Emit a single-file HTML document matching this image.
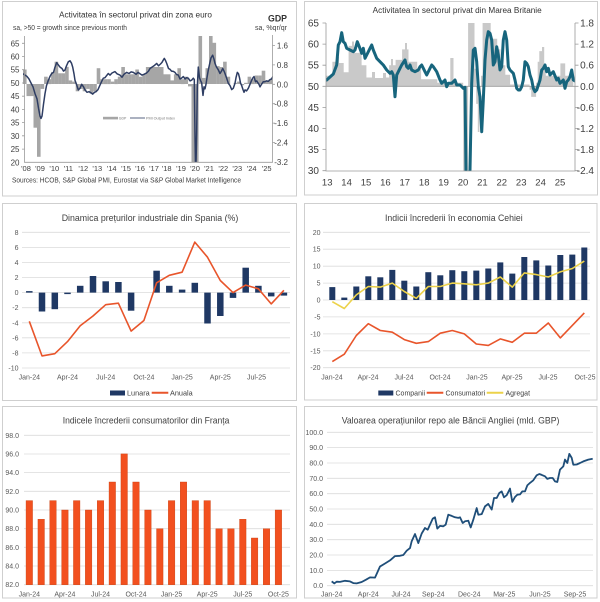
<!DOCTYPE html>
<html><head><meta charset="utf-8"><style>
html,body{margin:0;padding:0;background:#fff}
svg{display:block}
text{font-family:"Liberation Sans",Arial,sans-serif}
</style></head><body>
<svg width="600" height="602" viewBox="0 0 600 602" xmlns="http://www.w3.org/2000/svg">
<defs>
<clipPath id="c1"><rect x="23" y="36" width="250" height="126.3"/></clipPath>
<clipPath id="c2"><rect x="326" y="23" width="249" height="148"/></clipPath>
</defs>
<rect width="600" height="602" fill="#fff"/>
<!-- panel borders -->
<g fill="none" stroke="#cfcfcf" stroke-width="1">
<rect x="2.5" y="1.5" width="294" height="194.5"/>
<rect x="304.5" y="1.5" width="293" height="193.5"/>
<rect x="2.5" y="203.5" width="294" height="197"/>
<rect x="304.5" y="203.5" width="292.5" height="196.5"/>
<rect x="2.5" y="406.5" width="294" height="191.5"/>
<rect x="304.5" y="406.5" width="292.5" height="191.5"/>
</g>

<!-- ================= PANEL 1 ================= -->
<text x="59" y="17.5" font-size="8" fill="#333" textLength="153" lengthAdjust="spacingAndGlyphs">Activitatea în sectorul privat din zona euro</text>
<text x="13" y="30" font-size="7" fill="#404040" textLength="114" lengthAdjust="spacingAndGlyphs">sa, &gt;50 = growth since previous month</text>
<text x="268" y="21.7" font-size="9" font-weight="bold" fill="#333" textLength="19" lengthAdjust="spacingAndGlyphs">GDP</text>
<text x="255" y="30" font-size="7" fill="#404040" textLength="32" lengthAdjust="spacingAndGlyphs">sa, %qr/qr</text>
<g clip-path="url(#c1)" fill="#a6a6a6">
<rect x="23.0" y="69.5" width="3.6" height="14.5"/>
<rect x="26.5" y="84" width="3.6" height="12.1"/>
<rect x="30.0" y="84" width="3.6" height="12.1"/>
<rect x="33.5" y="84" width="3.6" height="43.7"/>
<rect x="37.0" y="84" width="3.6" height="72.8"/>
<rect x="40.6" y="84" width="3.6" height="4.9"/>
<rect x="44.1" y="76.7" width="3.6" height="7.3"/>
<rect x="47.6" y="79.2" width="3.6" height="4.9"/>
<rect x="51.1" y="71.9" width="3.6" height="12.1"/>
<rect x="54.6" y="61.7" width="3.6" height="22.3"/>
<rect x="58.1" y="73.3" width="3.6" height="10.7"/>
<rect x="61.6" y="73.3" width="3.6" height="10.7"/>
<rect x="65.1" y="66.8" width="3.6" height="17.2"/>
<rect x="68.6" y="80.4" width="3.6" height="3.6"/>
<rect x="72.1" y="81.6" width="3.6" height="2.4"/>
<rect x="75.7" y="84" width="3.6" height="7.3"/>
<rect x="79.2" y="84" width="3.6" height="4.9"/>
<rect x="82.7" y="84" width="3.6" height="7.3"/>
<rect x="86.2" y="84" width="3.6" height="4.9"/>
<rect x="89.7" y="84" width="3.6" height="9.7"/>
<rect x="93.2" y="84" width="3.6" height="7.3"/>
<rect x="96.7" y="68.2" width="3.6" height="15.8"/>
<rect x="100.2" y="79.2" width="3.6" height="4.9"/>
<rect x="103.7" y="79.2" width="3.6" height="4.9"/>
<rect x="107.2" y="79.2" width="3.6" height="4.9"/>
<rect x="110.8" y="81.6" width="3.6" height="2.4"/>
<rect x="114.3" y="79.2" width="3.6" height="4.9"/>
<rect x="117.8" y="76.7" width="3.6" height="7.3"/>
<rect x="121.3" y="67.0" width="3.6" height="17.0"/>
<rect x="124.8" y="74.3" width="3.6" height="9.7"/>
<rect x="128.3" y="74.3" width="3.6" height="9.7"/>
<rect x="131.8" y="74.3" width="3.6" height="9.7"/>
<rect x="135.3" y="69.5" width="3.6" height="14.5"/>
<rect x="138.8" y="76.7" width="3.6" height="7.3"/>
<rect x="142.3" y="74.3" width="3.6" height="9.7"/>
<rect x="145.9" y="67.0" width="3.6" height="17.0"/>
<rect x="149.4" y="67.0" width="3.6" height="17.0"/>
<rect x="152.9" y="67.0" width="3.6" height="17.0"/>
<rect x="156.4" y="67.0" width="3.6" height="17.0"/>
<rect x="159.9" y="67.0" width="3.6" height="17.0"/>
<rect x="163.4" y="74.3" width="3.6" height="9.7"/>
<rect x="166.9" y="74.3" width="3.6" height="9.7"/>
<rect x="170.4" y="80.4" width="3.6" height="3.6"/>
<rect x="173.9" y="74.3" width="3.6" height="9.7"/>
<rect x="177.4" y="68.2" width="3.6" height="15.8"/>
<rect x="180.9" y="79.2" width="3.6" height="4.9"/>
<rect x="184.5" y="76.7" width="3.6" height="7.3"/>
<rect x="188.0" y="84" width="3.6" height="2.4"/>
<rect x="191.5" y="84" width="3.6" height="80"/>
<rect x="195.0" y="84" width="3.6" height="80"/>
<rect x="198.5" y="34" width="3.6" height="50"/>
<rect x="202.0" y="77.9" width="3.6" height="6.1"/>
<rect x="205.5" y="68.2" width="3.6" height="15.8"/>
<rect x="209.0" y="34" width="3.6" height="50"/>
<rect x="212.5" y="42.8" width="3.6" height="41.2"/>
<rect x="216.1" y="66.1" width="3.6" height="17.9"/>
<rect x="219.6" y="67.0" width="3.6" height="17.0"/>
<rect x="223.1" y="61.7" width="3.6" height="22.3"/>
<rect x="226.6" y="76.7" width="3.6" height="7.3"/>
<rect x="233.6" y="82.8" width="3.6" height="1.2"/>
<rect x="237.1" y="81.6" width="3.6" height="2.4"/>
<rect x="240.6" y="84" width="3.6" height="1.2"/>
<rect x="244.1" y="82.8" width="3.6" height="1.2"/>
<rect x="247.6" y="76.7" width="3.6" height="7.3"/>
<rect x="251.1" y="79.2" width="3.6" height="4.9"/>
<rect x="254.7" y="75.5" width="3.6" height="8.5"/>
<rect x="258.2" y="75.5" width="3.6" height="8.5"/>
<rect x="261.7" y="70.7" width="3.6" height="13.3"/>
<rect x="265.2" y="80.4" width="3.6" height="3.6"/>
<rect x="268.7" y="79.2" width="3.6" height="4.9"/>
</g>
<polyline clip-path="url(#c1)" fill="none" stroke="#2e3d63" stroke-width="1.5" stroke-linejoin="round" points="23,73.7 25,75.1 27,76.4 29,79.0 31,83.0 33,86.8 35,93.6 37,98.9 38.5,108.1 40,116.1 41,118.4 42,116.1 43.5,104.2 45,93.6 46.5,85.6 48.3,80.4 50,76.4 51.7,73.5 53.5,72.4 55,67.1 56.7,62.6 58,64.5 60,67.1 62,68.5 63.5,71.1 65,70.0 66.5,65.8 68.3,61.8 70,60.8 71.5,63.2 72.7,67.1 74,73.8 75,80.4 76.5,84.3 78.3,89.9 80,88.3 81.7,84.3 83.5,86.8 85,89.9 87,92.3 89,91.7 91,92.8 92.7,94.1 94.5,92.3 96,91.7 98,89.6 100,85.1 101.5,81.7 103.3,78.2 105,77.7 107,75.1 108.3,73.5 110,75.1 112,73.0 115,71.6 117,73.8 120,75.1 122,77.2 124,74.3 126.7,72.4 129,73.5 131,71.9 133.3,72.4 136,74.3 138,72.4 140,73.7 142,75.1 144,74.3 146.7,72.9 148.5,71.1 150,68.5 152,67.1 154,65.8 156.7,63.4 158.5,65.8 160.5,64.0 162,62.4 163.3,60.0 164.3,58.4 165.5,60.5 166.7,63.4 168.5,68.5 170,69.3 171.5,71.1 173.3,71.4 175,72.4 176.5,74.5 178.3,75.1 180,79.0 181.5,78.2 183.3,76.6 185,79.0 186.5,77.7 188.3,78.2 190,80.9 191.7,80.1 193.3,78.2 194.3,79.6 195,135.9 195.7,179.2 196.7,130.9 197.3,86.9 198.3,67.1 199.5,77.7 200.5,80.4 201.7,83.0 203,95.4 204,86.9 205,88.8 206,84.3 207,77.7 208.3,70.0 209.5,64.5 211,57.9 212.7,55.2 214,59.2 215,63.4 216.5,67.1 218.3,69.8 220,73.5 221.5,71.1 222.7,68.5 224,71.1 225,73.5 226.5,77.7 228.3,83.3 230,85.6 231.7,89.6 233.3,88.3 235,83.3 236,77.7 237.3,72.4 238.5,73.8 239.5,77.7 240.5,83.0 241.7,85.6 243,89.6 244,92.3 245,89.9 246.5,90.9 248.3,88.3 250,84.3 251.7,80.1 253,77.7 254,76.6 255.5,81.7 256.7,80.9 258,83.0 259,84.3 260,86.9 261.5,84.3 263.3,81.7 265,81.7 266.5,80.9 268.3,81.4 270,79.6 271.5,79.0 273,76.4"/>
<!-- axes p1 -->
<g stroke="#9a9a9a" stroke-width="0.8" fill="none">
<path d="M24.5,36V162.3H272.5V35"/>
<path d="M22,43.3H24.5M22,56.5H24.5M22,69.7H24.5M22,83H24.5M22,96.2H24.5M22,109.4H24.5M22,122.6H24.5M22,135.8H24.5M22,149.1H24.5"/>
<path d="M272.5,45.5H275M272.5,64.9H275M272.5,84.3H275M272.5,103.7H275M272.5,123.1H275M272.5,142.5H275"/>
</g>
<g font-size="8" fill="#404040" text-anchor="end">
<text x="19.5" y="46.3">65</text><text x="19.5" y="59.5">60</text><text x="19.5" y="72.7">55</text><text x="19.5" y="86">50</text><text x="19.5" y="99.2">45</text><text x="19.5" y="112.4">40</text><text x="19.5" y="125.6">35</text><text x="19.5" y="138.8">30</text><text x="19.5" y="152.1">25</text><text x="19.5" y="165.3">20</text>
<text x="288" y="48.5">1.6</text><text x="288" y="67.9">0.8</text><text x="288" y="87.3">0.0</text><text x="288" y="106.7">-0.8</text><text x="288" y="126.1">-1.6</text><text x="288" y="145.5">-2.4</text><text x="288" y="164.9">-3.2</text>
</g>
<g font-size="7.5" fill="#404040" text-anchor="middle">
<text x="26" y="171">'08</text><text x="40" y="171">'09</text><text x="54.3" y="171">'10</text><text x="68.3" y="171">'11</text><text x="83.3" y="171">'12</text><text x="97.3" y="171">'13</text><text x="111.7" y="171">'14</text><text x="126" y="171">'15</text><text x="140" y="171">'16</text><text x="154" y="171">'17</text><text x="166.7" y="171">'18</text><text x="181" y="171">'19</text><text x="195" y="171">'20</text><text x="209" y="171">'21</text><text x="223.3" y="171">'22</text><text x="237.3" y="171">'23</text><text x="251.7" y="171">'24</text><text x="266.7" y="171">'25</text>
</g>
<text x="12" y="182.5" font-size="7" fill="#404040" textLength="229" lengthAdjust="spacingAndGlyphs">Sources: HCOB, S&amp;P Global PMI, Eurostat via S&amp;P Global Market Intelligence</text>
<rect x="103" y="116.8" width="15" height="2.6" fill="#a6a6a6"/>
<text x="118.8" y="119.5" font-size="3.5" fill="#777">GDP</text>
<line x1="130" y1="118" x2="145" y2="118" stroke="#2e3d63" stroke-width="0.8"/>
<text x="146" y="119.5" font-size="3.5" fill="#777" textLength="29" lengthAdjust="spacingAndGlyphs">PMI Output Index</text>

<!-- ================= PANEL 2 ================= -->
<text x="372.7" y="12.8" font-size="8" fill="#333" textLength="169" lengthAdjust="spacingAndGlyphs">Activitatea în sectorul privat din Marea Britanie</text>
<polygon clip-path="url(#c2)" fill="#c9c9c9" points="325.9,86.3 325.9,75.8 332.4,75.8 332.4,61.7 336,61.7 336,57 339,57 339,63 343.7,63 343.7,72.2 348.6,72.2 348.6,45.9 352,45.9 352,41.5 354,41.5 354,47 355.1,47 355.1,52.9 361.6,52.9 361.6,65.2 366.4,65.2 366.4,77.5 372,77.5 372,72 375,72 375,78 383,78 383,73 386,73 386,77.5 389.1,77.5 389.1,65.2 391,65.2 391,59 393,59 393,65.2 395.6,65.2 395.6,59.9 402.1,59.9 402.1,49.4 405,49.4 405,43 407,43 407,49.4 408.5,49.4 408.5,61.7 417.2,61.7 417.2,68.7 421.1,68.7 421.1,79.3 437.3,79.3 437.3,82.8 450.3,82.8 450.3,58 453.5,58 453.5,82.8 463.2,82.8 463.2,180 468.1,180 468.1,15 474.5,15 474.5,68.7 476.2,68.7 476.2,103.9 477.8,103.9 477.8,132 479.4,132 479.4,114.4 481,114.4 481,75.8 482.6,75.8 482.6,15 489.1,15 489.1,23 490.7,23 490.7,38.8 497.2,38.8 497.2,49.4 500.4,49.4 500.4,65.2 505.3,65.2 505.3,74.7 510.1,74.7 510.1,84.5 529.6,84.5 529.6,89.8 531.2,89.8 531.2,96.9 536.1,96.9 536.1,82.8 537.7,82.8 537.7,61.7 539.3,61.7 539.3,51.1 542,51.1 542,47 544.2,47 544.2,65.2 545.8,65.2 545.8,75.8 560.4,75.8 560.4,63.4 565.2,63.4 565.2,75.8 573.3,75.8 573.3,86.3"/>
<line x1="326" y1="86.3" x2="575" y2="86.3" stroke="#9a9a9a" stroke-width="0.8"/>
<polyline clip-path="url(#c2)" fill="none" stroke="#17657d" stroke-width="3" stroke-linejoin="round" stroke-linecap="round" points="326.7,80 333.3,74 336.7,65 338.3,45 340,41.7 341.7,32.7 343.3,41.7 345,43.3 346.7,48.3 350,50 353.3,51.7 355,50 357.3,41.7 359.3,46.7 361.7,53.3 363.3,48.3 365,58.3 366.7,55 370,48.3 371.7,45 373.3,50 376.7,58.3 380,61.7 383.3,65 386.7,70 390,73.3 391.7,71.7 393.3,75 395,96.7 396.7,75 400,68.3 401.7,65 405,60 406.7,66.7 408.3,68.3 410,65 411.7,70 415,71.7 418.3,70 420,66.7 421.7,65 425,71.7 426.7,75 430,68.3 431.7,65 433.3,66.7 436.7,71.7 440,80 441.7,83.3 445,80 446.7,86.7 448.3,83.3 451.7,83.3 455,80 456.7,85 460,85 463.3,88.3 465,87.3 466,173.3 468.3,176.7 470,170 471.7,83.3 473.3,50 475,48.3 476.7,61.7 478.3,86.7 480,96.7 481.7,131.7 483.3,100 485,60 486.7,40 488.3,31.7 490,33.3 491.7,40 493.3,65 495,61.7 496.7,46.7 498.3,55 500,70 501.7,66.7 503.3,40 505,31.7 506.7,40 508.3,66.7 510,70 513.3,73.3 515,80 516.7,88.3 518.3,90 520,90 521.7,86.7 523.3,80 525,61.7 526.7,63.3 528.3,66.7 530,75 531.7,80 533.3,88.3 535,91.7 536.7,90 540,80 541.7,70 543.3,68.3 545,65 546.7,71.7 548.3,68.3 550,75 553.3,71.7 556.7,80 558.3,78.3 560,83.3 561.7,81.7 563.3,80 565,88.3 566.7,81.7 568.3,80 570,76.7 571.7,70 573.3,80 575,81"/>
<g stroke="#9a9a9a" stroke-width="0.8" fill="none">
<path d="M326,23V171H575V23"/>
<path d="M322.5,23H326M322.5,44.1H326M322.5,65.2H326M322.5,86.3H326M322.5,107.4H326M322.5,128.5H326M322.5,149.6H326M322.5,170.7H326"/>
<path d="M575,23H578.5M575,44.1H578.5M575,65.2H578.5M575,86.3H578.5M575,107.4H578.5M575,128.5H578.5M575,149.6H578.5M575,170.7H578.5"/>
</g>
<g font-size="10" fill="#404040" text-anchor="end">
<text x="319" y="26.5">65</text><text x="319" y="47.6">60</text><text x="319" y="68.7">55</text><text x="319" y="89.8">50</text><text x="319" y="110.9">45</text><text x="319" y="132">40</text><text x="319" y="153.1">35</text><text x="319" y="174.2">30</text>
<text x="594" y="26.5">1.8</text><text x="594" y="47.6">1.2</text><text x="594" y="68.7">0.6</text><text x="594" y="89.8">0.0</text><text x="594" y="110.9">-0.6</text><text x="594" y="132">-1.2</text><text x="594" y="153.1">-1.8</text><text x="594" y="174.2">-2.4</text>
</g>
<g font-size="9.5" fill="#404040" text-anchor="middle">
<text x="327.2" y="185.5">13</text><text x="346.6" y="185.5">14</text><text x="366" y="185.5">15</text><text x="385.4" y="185.5">16</text><text x="404.8" y="185.5">17</text><text x="424.2" y="185.5">18</text><text x="443.6" y="185.5">19</text><text x="463" y="185.5">20</text><text x="482.4" y="185.5">21</text><text x="501.8" y="185.5">22</text><text x="521.2" y="185.5">23</text><text x="540.6" y="185.5">24</text><text x="560" y="185.5">25</text>
</g>

<!-- ================= PANEL 3 ================= -->
<text x="61.7" y="221" font-size="9.5" fill="#404040" textLength="176.6" lengthAdjust="spacingAndGlyphs">Dinamica prețurilor industriale din Spania (%)</text>
<g stroke="#dcdcdc" stroke-width="0.8">
<path d="M22,232.3H290M22,247.4H290M22,262.4H290M22,277.5H290M22,292.6H290M22,307.7H290M22,322.8H290M22,337.8H290M22,352.9H290M22,368H290"/>
</g>
<g font-size="7" fill="#595959" text-anchor="end">
<text x="18.5" y="234.8">8</text><text x="18.5" y="249.9">6</text><text x="18.5" y="264.9">4</text><text x="18.5" y="280">2</text><text x="18.5" y="295.1">0</text><text x="18.5" y="310.2">-2</text><text x="18.5" y="325.3">-4</text><text x="18.5" y="340.3">-6</text><text x="18.5" y="355.4">-8</text><text x="18.5" y="370.5">-10</text>
</g>
<g fill="#1f3864">
<rect x="26.05" y="291.1" width="6.5" height="1.5"/>
<rect x="38.75" y="292.6" width="6.5" height="18.9"/>
<rect x="51.55" y="292.6" width="6.5" height="16.6"/>
<rect x="64.25" y="292.6" width="6.5" height="1.5"/>
<rect x="76.95" y="285.8" width="6.5" height="6.8"/>
<rect x="89.75" y="276.0" width="6.5" height="16.6"/>
<rect x="102.45" y="281.3" width="6.5" height="11.3"/>
<rect x="115.15" y="282.0" width="6.5" height="10.6"/>
<rect x="127.85" y="292.6" width="6.5" height="18.1"/>
<rect x="153.35" y="270.7" width="6.5" height="21.9"/>
<rect x="166.05" y="285.8" width="6.5" height="6.8"/>
<rect x="178.85" y="289.6" width="6.5" height="3.0"/>
<rect x="191.55" y="282.8" width="6.5" height="9.8"/>
<rect x="204.25" y="292.6" width="6.5" height="30.9"/>
<rect x="217.05" y="292.6" width="6.5" height="23.4"/>
<rect x="229.75" y="292.6" width="6.5" height="5.3"/>
<rect x="242.45" y="267.7" width="6.5" height="24.9"/>
<rect x="255.15" y="285.8" width="6.5" height="6.8"/>
<rect x="267.95" y="292.6" width="6.5" height="3.8"/>
<rect x="280.65" y="292.6" width="6.5" height="3.0"/>
</g>
<polyline fill="none" stroke="#e8552b" stroke-width="1.6" stroke-linejoin="round" points="29.3,321.3 42.0,355.9 54.8,353.7 67.5,341.6 80.2,325.8 93.0,316.0 105.7,304.7 118.4,303.2 131.1,331.1 143.9,320.5 156.6,282.8 169.3,275.3 182.1,272.2 194.8,242.1 207.5,257.2 220.3,280.5 233.0,292.6 245.7,285.1 258.4,288.8 271.2,303.9 283.9,290.3"/>
<g font-size="7" fill="#595959" text-anchor="middle">
<text x="29.3" y="379.5">Jan-24</text><text x="67.5" y="379.5">Apr-24</text><text x="105.7" y="379.5">Jul-24</text><text x="143.9" y="379.5">Oct-24</text><text x="182.1" y="379.5">Jan-25</text><text x="220.3" y="379.5">Apr-25</text><text x="256.5" y="379.5">Jul-25</text>
</g>
<rect x="110" y="390.5" width="15" height="5" fill="#1f3864"/>
<text x="127" y="395.7" font-size="7.3" fill="#404040">Lunara</text>
<line x1="151.7" y1="392.8" x2="168.3" y2="392.8" stroke="#e8552b" stroke-width="2"/>
<text x="170" y="395.7" font-size="7.3" fill="#404040">Anuala</text>

<!-- ================= PANEL 4 ================= -->
<text x="385" y="221" font-size="9.5" fill="#404040" textLength="137.7" lengthAdjust="spacingAndGlyphs">Indicii încrederii în economia Cehiei</text>
<g stroke="#dcdcdc" stroke-width="0.8">
<path d="M323,232.3H590M323,249.2H590M323,266.2H590M323,283.1H590M323,300H590M323,316.9H590M323,333.9H590M323,350.8H590M323,367.7H590"/>
</g>
<g font-size="7" fill="#595959" text-anchor="end">
<text x="320.5" y="234.8">20</text><text x="320.5" y="251.7">15</text><text x="320.5" y="268.7">10</text><text x="320.5" y="285.6">5</text><text x="320.5" y="302.5">0</text><text x="320.5" y="319.4">-5</text><text x="320.5" y="336.4">-10</text><text x="320.5" y="353.3">-15</text><text x="320.5" y="370.2">-20</text>
</g>
<g fill="#1f3864">
<rect x="329.3" y="287.1" width="6" height="12.9"/>
<rect x="341.3" y="297.6" width="6" height="2.4"/>
<rect x="353.3" y="286.5" width="6" height="13.5"/>
<rect x="365.3" y="276.3" width="6" height="23.7"/>
<rect x="377.3" y="277.3" width="6" height="22.7"/>
<rect x="389.3" y="269.9" width="6" height="30.1"/>
<rect x="401.3" y="280.7" width="6" height="19.3"/>
<rect x="413.3" y="286.5" width="6" height="13.5"/>
<rect x="425.3" y="272.2" width="6" height="27.8"/>
<rect x="437.3" y="275.3" width="6" height="24.7"/>
<rect x="449.3" y="270.2" width="6" height="29.8"/>
<rect x="461.3" y="271.2" width="6" height="28.8"/>
<rect x="473.3" y="270.6" width="6" height="29.4"/>
<rect x="485.3" y="268.5" width="6" height="31.5"/>
<rect x="497.3" y="262.4" width="6" height="37.6"/>
<rect x="509.3" y="273.6" width="6" height="26.4"/>
<rect x="521.3" y="257.0" width="6" height="43.0"/>
<rect x="533.3" y="260.4" width="6" height="39.6"/>
<rect x="545.3" y="265.5" width="6" height="34.5"/>
<rect x="557.3" y="255.0" width="6" height="45.0"/>
<rect x="569.3" y="254.6" width="6" height="45.4"/>
<rect x="581.3" y="247.5" width="6" height="52.5"/>
</g>
<polyline fill="none" stroke="#e8552b" stroke-width="1.6" stroke-linejoin="round" points="332.3,361.6 344.3,354.2 356.3,335.5 368.3,323.7 380.3,330.5 392.3,332.2 404.3,339.6 416.3,343.3 428.3,341.6 440.3,333.2 452.3,330.5 464.3,333.9 476.3,344.0 488.3,345.4 500.3,338.9 512.3,342.3 524.3,333.2 536.3,333.2 548.3,323.0 560.3,337.9 572.3,325.4 584.3,312.9"/>
<polyline fill="none" stroke="#ecd24a" stroke-width="1.6" stroke-linejoin="round" points="332.3,301.7 344.3,308.5 356.3,294.9 368.3,286.5 380.3,287.1 392.3,283.1 404.3,291.5 416.3,298.3 428.3,286.5 440.3,286.5 452.3,283.1 464.3,283.8 476.3,284.8 488.3,283.1 500.3,277.0 512.3,287.1 524.3,272.9 536.3,274.6 548.3,277.0 560.3,271.9 572.3,268.5 584.3,261.1"/>
<g font-size="7" fill="#595959" text-anchor="middle">
<text x="332" y="379.5">Jan-24</text><text x="368" y="379.5">Apr-24</text><text x="404" y="379.5">Jul-24</text><text x="440" y="379.5">Oct-24</text><text x="477" y="379.5">Jan-25</text><text x="512" y="379.5">Apr-25</text><text x="548" y="379.5">Jul-25</text><text x="585" y="379.5">Oct-25</text>
</g>
<rect x="378.3" y="390.5" width="15" height="5" fill="#1f3864"/>
<text x="395.5" y="395.7" font-size="7" fill="#404040">Companii</text>
<line x1="426.7" y1="392.8" x2="443.3" y2="392.8" stroke="#e8552b" stroke-width="2"/>
<text x="445.5" y="395.7" font-size="7" fill="#404040">Consumatori</text>
<line x1="486.7" y1="392.8" x2="503.3" y2="392.8" stroke="#ecd24a" stroke-width="2"/>
<text x="505.5" y="395.7" font-size="7" fill="#404040">Agregat</text>

<!-- ================= PANEL 5 ================= -->
<text x="62.7" y="423.3" font-size="9.5" fill="#404040" textLength="166.7" lengthAdjust="spacingAndGlyphs">Indicele încrederii consumatorilor din Franța</text>
<g stroke="#dcdcdc" stroke-width="0.8">
<path d="M24,435.3H290M24,454H290M24,472.6H290M24,491.3H290M24,510H290M24,528.7H290M24,547.3H290M24,566H290M24,584.7H290"/>
</g>
<g font-size="7" fill="#595959" text-anchor="end">
<text x="19" y="437.8">98.0</text><text x="19" y="456.5">96.0</text><text x="19" y="475.1">94.0</text><text x="19" y="493.8">92.0</text><text x="19" y="512.5">90.0</text><text x="19" y="531.2">88.0</text><text x="19" y="549.8">86.0</text><text x="19" y="568.5">84.0</text><text x="19" y="587.2">82.0</text>
</g>
<g fill="#f2501f" stroke="#c8400f" stroke-width="0.4">
<rect x="26.05" y="500.6" width="6.5" height="84.1"/>
<rect x="37.95" y="519.3" width="6.5" height="65.4"/>
<rect x="49.75" y="500.6" width="6.5" height="84.1"/>
<rect x="61.65" y="510" width="6.5" height="74.7"/>
<rect x="73.45" y="500.6" width="6.5" height="84.1"/>
<rect x="85.35" y="510" width="6.5" height="74.7"/>
<rect x="97.25" y="500.6" width="6.5" height="84.1"/>
<rect x="109.05" y="482" width="6.5" height="102.7"/>
<rect x="120.95" y="453.9" width="6.5" height="130.8"/>
<rect x="132.75" y="482" width="6.5" height="102.7"/>
<rect x="144.65" y="510" width="6.5" height="74.7"/>
<rect x="156.55" y="528.7" width="6.5" height="56"/>
<rect x="168.35" y="500.6" width="6.5" height="84.1"/>
<rect x="180.25" y="482" width="6.5" height="102.7"/>
<rect x="192.05" y="500.6" width="6.5" height="84.1"/>
<rect x="203.95" y="500.6" width="6.5" height="84.1"/>
<rect x="215.85" y="528.7" width="6.5" height="56"/>
<rect x="227.65" y="528.7" width="6.5" height="56"/>
<rect x="239.55" y="519.3" width="6.5" height="65.4"/>
<rect x="251.35" y="538" width="6.5" height="46.7"/>
<rect x="263.25" y="528.7" width="6.5" height="56"/>
<rect x="275.15" y="510" width="6.5" height="74.7"/>
</g>
<g font-size="7" fill="#595959" text-anchor="middle">
<text x="29.3" y="596.5">Jan-24</text><text x="64.9" y="596.5">Apr-24</text><text x="100.5" y="596.5">Jul-24</text><text x="136" y="596.5">Oct-24</text><text x="171.6" y="596.5">Jan-25</text><text x="207.2" y="596.5">Apr-25</text><text x="242.8" y="596.5">Jul-25</text><text x="278.4" y="596.5">Oct-25</text>
</g>

<!-- ================= PANEL 6 ================= -->
<text x="341.7" y="423.3" font-size="9.5" fill="#404040" textLength="217.7" lengthAdjust="spacingAndGlyphs">Valoarea operațiunilor repo ale Băncii Angliei (mld. GBP)</text>
<g stroke="#dcdcdc" stroke-width="0.8">
<path d="M327,432.3H593M327,447.6H593M327,463H593M327,478.3H593M327,493.7H593M327,509H593M327,524.3H593M327,539.7H593M327,555H593M327,570.4H593M327,585.7H593"/>
</g>
<g font-size="7" fill="#595959" text-anchor="end">
<text x="323" y="434.8">100.0</text><text x="323" y="450.1">90.0</text><text x="323" y="465.5">80.0</text><text x="323" y="480.8">70.0</text><text x="323" y="496.2">60.0</text><text x="323" y="511.5">50.0</text><text x="323" y="526.8">40.0</text><text x="323" y="542.2">30.0</text><text x="323" y="557.5">20.0</text><text x="323" y="572.9">10.0</text><text x="323" y="588.2">0.0</text>
</g>
<polyline fill="none" stroke="#1f4e79" stroke-width="1.8" stroke-linejoin="round" points="331.7,581.4 334.3,583.4 336.7,581.7 340,581.9 345,580.8 350,581.4 353.3,583.1 356.7,583.4 361.7,582.0 366,579.7 370,577.4 375,577.6 380,566.5 385,563.5 390,560.4 395,556.1 400,555.8 403.3,555.0 406.7,550.7 410,548.1 411.7,541.2 415,534.0 418.3,543.1 421.7,533.5 425,528.0 427.7,529.7 430,524.6 432.7,518.7 435,517.3 437.3,528.6 440,525.9 443.3,526.3 445.7,524.6 448.3,514.7 451.7,515.9 455,517.3 458.3,517.9 460,517.3 462.7,523.0 465,521.3 468.3,520.7 470.7,527.4 473.3,519.7 476.7,508.1 478.3,514.7 481.7,514.1 485,506.4 488.3,503.9 491.7,509.6 494,498.0 496.7,498.0 499.3,493.0 501.7,491.4 504,497.3 506.7,495.2 510,488.6 512.3,501.9 515,497.0 517.3,494.7 520,494.4 522.3,491.4 525,491.4 527.3,485.4 530,482.9 533.3,480.3 536.7,475.3 539.3,474.0 541.7,474.9 545,476.3 547.3,478.9 550,478.0 552.7,478.0 555,481.4 557.3,482.0 560,469.6 563.3,466.4 565,459.6 567.3,463.0 569.3,453.9 571.7,457.9 573.3,464.7 576.7,464.5 580,463.0 583.3,461.4 588.3,459.6 592.7,458.7"/>
<g font-size="7" fill="#595959" text-anchor="middle">
<text x="331.7" y="596.5">Jan-24</text><text x="368.3" y="596.5">Apr-24</text><text x="401" y="596.5">Jul-24</text><text x="433.3" y="596.5">Sep-24</text><text x="469.3" y="596.5">Dec-24</text><text x="504.3" y="596.5">Mar-25</text><text x="540" y="596.5">Jun-25</text><text x="575" y="596.5">Sep-25</text>
</g>
</svg>
</body></html>
